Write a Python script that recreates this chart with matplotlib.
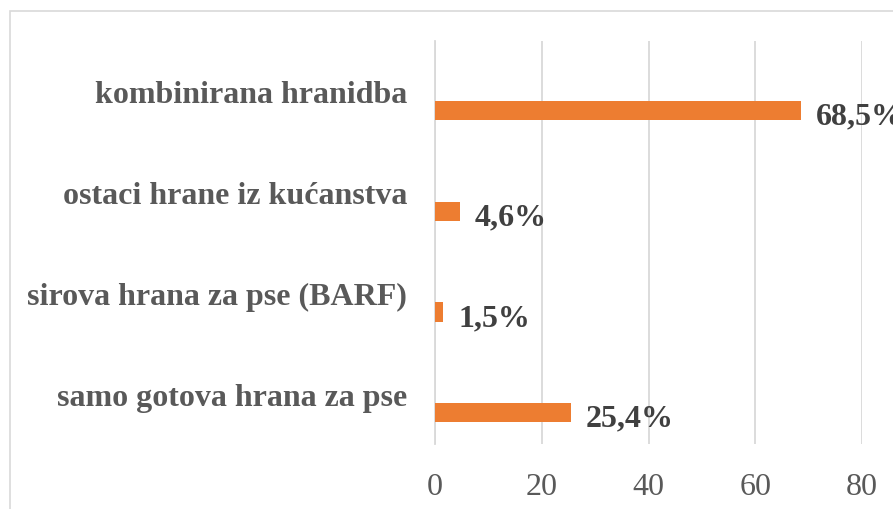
import matplotlib.pyplot as plt
from matplotlib.patches import Rectangle

# data
categories = ['kombinirana hranidba', 'ostaci hrane iz kućanstva',
              'sirova hrana za pse (BARF)', 'samo gotova hrana za pse']
values = [68.5, 4.6, 1.5, 25.4]
labels = ['68,5%', '4,6%', '1,5%', '25,4%']
ticks = [0, 20, 40, 60, 80]

plt.rcParams['font.family'] = ['Liberation Serif', 'DejaVu Serif']

fig = plt.figure(figsize=(8.93, 5.1), dpi=100)
ax = fig.add_axes([435 / 893, 1 - 445 / 510, 427 / 893, 403 / 510])

# outer chart border
fig.patches.append(Rectangle((10 / 893, -0.1), 1.2, 1 - 12 / 510 + 0.1,
                             transform=fig.transFigure, fill=False,
                             edgecolor='#d9d9d9', linewidth=1.2))

pos = list(range(len(categories)))
offset = 0.19  # bars sit below the category centre (empty second series)
bars = ax.barh([p + offset for p in pos], values, height=0.19,
               color='#ed7d31', zorder=3)

for b, lab in zip(bars, labels):
    ax.annotate(lab, (b.get_width(), b.get_y() + b.get_height() / 2),
                xytext=(11, -4), textcoords='offset points',
                ha='left', va='center', fontsize=23, fontweight='bold',
                color='#404040', annotation_clip=False)

ax.set_xlim(0, 80)
ax.set_ylim(3.5, -0.5)
ax.set_xticks(ticks)
ax.set_xticklabels([str(t) for t in ticks])
ax.set_yticks(pos)
ax.set_yticklabels(categories)

ax.tick_params(axis='x', length=0, pad=20, labelsize=23, labelcolor='#595959')
ax.tick_params(axis='y', length=0, pad=20, labelsize=23, labelcolor='#595959')
for t in ax.get_yticklabels():
    t.set_fontweight('bold')
    t.set_y(t.get_position()[1])

ax.grid(axis='x', color='#d9d9d9', linewidth=1.3, zorder=0)
for s in ['top', 'right', 'bottom']:
    ax.spines[s].set_visible(False)
ax.spines['left'].set_color('#d9d9d9')
ax.spines['left'].set_linewidth(1.3)

fig.savefig('out.png', dpi=100)
